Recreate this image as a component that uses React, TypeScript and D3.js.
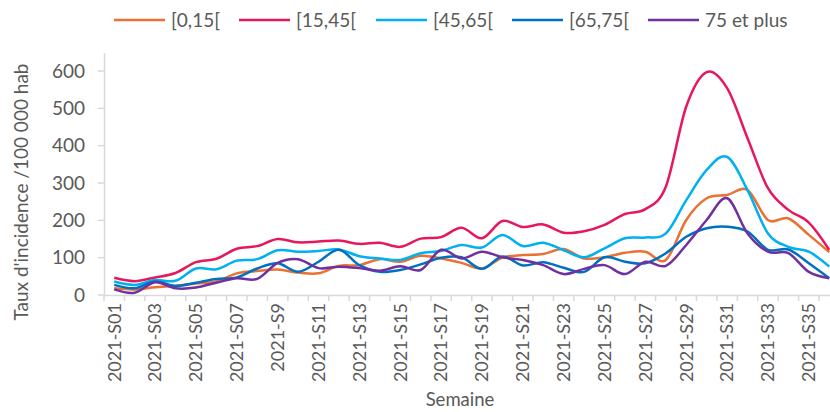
import React from "react";
import * as d3 from "d3";

const weeks: string[] = Array.from({ length: 36 }, (_, i) => `2021-S${i + 1 < 10 && i + 1 !== 9 ? "0" + (i + 1) : i + 1}`);
const tickLabels: string[] = ["2021-S01","2021-S03","2021-S05","2021-S07","2021-S9","2021-S11","2021-S13","2021-S15","2021-S17","2021-S19","2021-S21","2021-S23","2021-S25","2021-S27","2021-S29","2021-S31","2021-S33","2021-S35"];
const yTicks = [0, 100, 200, 300, 400, 500, 600];

const s0_15 = [18,15,21,25,31,36,58,64,68,60,58,78,80,96,89,105,98,86,71,100,107,110,123,98,101,113,116,94,201,259,268,281,201,205,161,115];
const s15_45 = [46,37,47,59,88,97,124,131,150,141,143,146,137,140,129,151,155,180,152,198,182,189,167,171,188,217,230,290,505,597,554,420,286,228,194,121];
const s45_65 = [36,27,40,38,71,69,92,96,120,116,118,122,104,98,94,112,118,134,127,161,131,140,120,101,125,152,154,165,254,335,370,281,165,129,116,76];
const s65_75 = [27,18,36,24,33,43,47,71,85,62,89,121,80,62,67,82,100,101,70,103,79,88,73,62,101,89,85,112,156,179,183,170,121,122,85,45];
const s75plus = [15,6,34,18,20,33,45,43,86,96,72,76,72,65,77,67,121,98,116,101,94,80,56,70,80,56,89,78,134,201,259,165,116,112,62,45];

const seriesNames = ["[0,15[", "[15,45[", "[45,65[", "[65,75[", "75 et plus"];
const seriesColors = ["#E97132", "#E6175C", "#00B0F0", "#0070C0", "#7030A0"];
const seriesData = [s0_15, s15_45, s45_65, s65_75, s75plus];

const legendX = [114, 239, 376, 512, 648];

export default function App() {
  const W = 830, H = 412;
  const x = d3.scaleBand<string>().domain(weeks).range([104, 104 + 36 * 20.43]).paddingInner(0).paddingOuter(0);
  const y = d3.scaleLinear().domain([0, 600]).range([295, 71]);
  const line = d3
    .line<number>()
    .x((_, i) => (x(weeks[i]) as number) + x.bandwidth() / 2)
    .y((d) => y(d))
    .curve(d3.curveCatmullRom.alpha(0));
  const font = "Lato, 'Open Sans', sans-serif";
  const textColor = "#595959";
  const axisColor = "#D9D9D9";
  const bounds = weeks.map((w) => x(w) as number).concat([(x(weeks[35]) as number) + x.bandwidth()]);

  return (
    <svg width={W} height={H} style={{ position: "absolute", left: 0, top: 0 }} fontFamily={font}>
      <rect width={W} height={H} fill="#fff" />
      {/* legend */}
      {seriesNames.map((n, i) => (
        <g key={n}>
          <line x1={legendX[i]} x2={legendX[i] + 51} y1={20} y2={20} stroke={seriesColors[i]} strokeWidth={2.5} />
          <text x={legendX[i] + 57} y={20} dy="0.35em" fontSize={19} fill={textColor}>{n}</text>
        </g>
      ))}
      {/* y axis */}
      <line x1={104.5} x2={104.5} y1={53} y2={295} stroke={axisColor} strokeWidth={1.5} />
      {yTicks.map((t) => (
        <g key={t}>
          <line x1={98} x2={104.5} y1={y(t)} y2={y(t)} stroke={axisColor} strokeWidth={1.5} />
          <text x={85} y={y(t)} dy="0.35em" textAnchor="end" fontSize={19} fill={textColor}>{t}</text>
        </g>
      ))}
      <text transform={`translate(21,192) rotate(-90)`} textAnchor="middle" dy="0.35em" fontSize={19} fill={textColor}>
        Taux d'incidence /100 000 hab
      </text>
      {/* x axis */}
      <line x1={104} x2={W} y1={295.5} y2={295.5} stroke={axisColor} strokeWidth={1.5} />
      {bounds.map((b, i) => (
        <line key={i} x1={b} x2={b} y1={295.5} y2={301} stroke={axisColor} strokeWidth={1.5} />
      ))}
      {weeks.map((w, i) =>
        i % 2 === 0 ? (
          <text key={w} transform={`translate(${(x(w) as number) + x.bandwidth() / 2},303) rotate(-90)`} textAnchor="end" dy="0.35em" fontSize={18} fill={textColor}>
            {tickLabels[i / 2]}
          </text>
        ) : null
      )}
      <text x={460} y={406} textAnchor="middle" fontSize={18.5} fill={textColor}>Semaine</text>
      {/* lines */}
      {seriesData.map((s, i) => (
        <path key={i} d={line(s) ?? ""} fill="none" stroke={seriesColors[i]} strokeWidth={2.5} strokeLinejoin="round" />
      ))}
    </svg>
  );
}
